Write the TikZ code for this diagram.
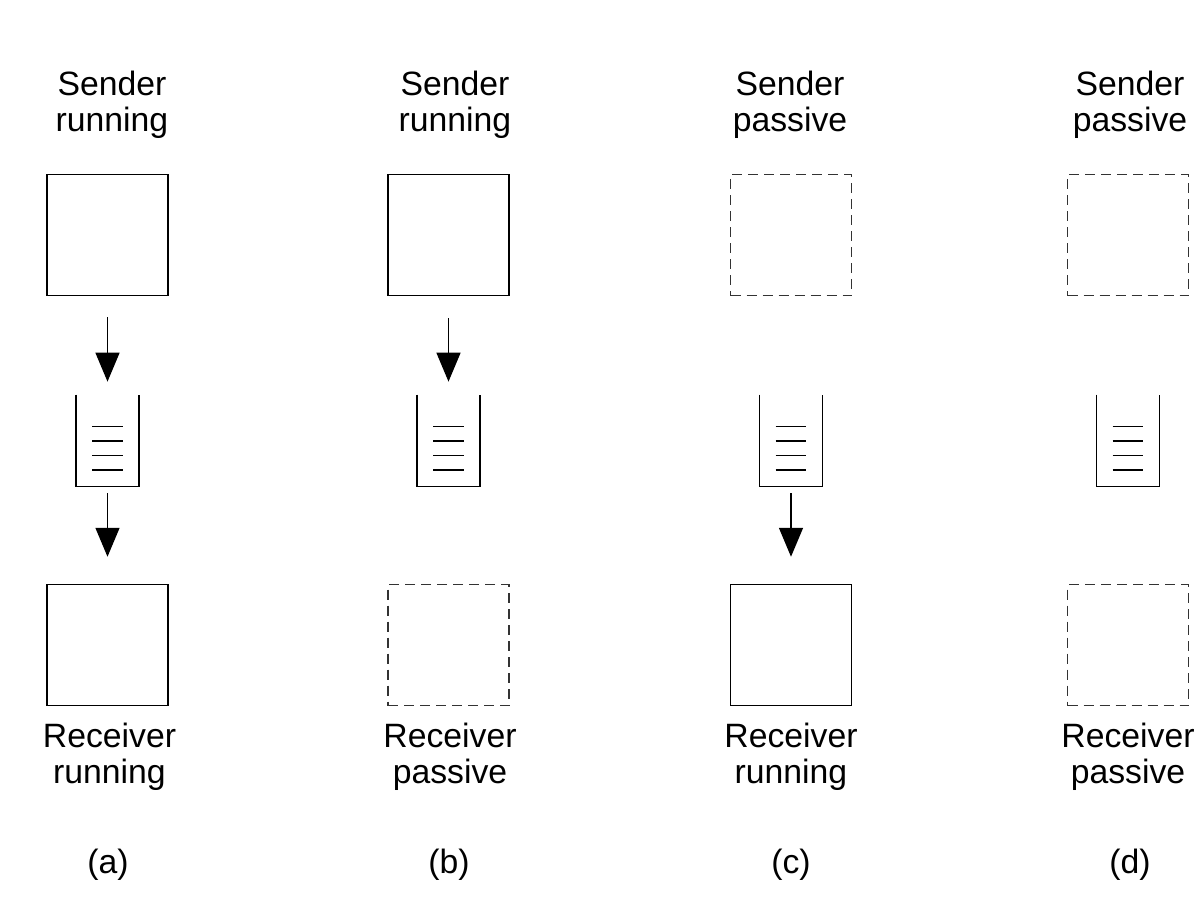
\documentclass[tikz,border=0pt]{standalone}
\usepackage{fontspec}
\setmainfont{Liberation Sans}
\usetikzlibrary{arrows.meta}
\newcommand\buffer[1]{%
\draw[line width=0.8pt] (#1.north west) |- (#1.south east) -- (#1.north east);
\foreach \k in {0.64,0.93,1.22,1.51}
  \draw[line width=0.8pt] ([xshift=0.32cm,yshift=-\k cm]#1.north west) -- ([xshift=-0.32cm,yshift=-\k cm]#1.north east);
}

\begin{document}
\begin{tikzpicture}[
  running/.style={draw,line width=0.85pt,minimum size=2.42cm,inner sep=0},
  passive/.style={running,draw=black!80,dash pattern=on 0.2cm off 0.12cm},
  queue/.style={minimum width=1.24cm,minimum height=1.82cm,inner sep=0},
  state/.style={align=center,anchor=north,inner sep=0,font=\fontsize{19.2}{20.4}\selectfont},
  flow/.style={line width=0.85pt,-{Triangle[length=0.58cm,width=0.48cm]}}]

\useasboundingbox (0,0) rectangle (24.08,-18.24);

% senders
\node[running] (sa) at (2.15,-4.70) {};
\node[running] (sb) at (8.97,-4.70) {};
\node[passive] (sc) at (15.82,-4.70) {};
\node[passive] (sd) at (22.56,-4.70) {};

% buffers
\node[queue] (qa) at (2.15,-8.81) {};
\node[queue] (qb) at (8.97,-8.81) {};
\node[queue] (qc) at (15.82,-8.81) {};
\node[queue] (qd) at (22.56,-8.81) {};
\buffer{qa} \buffer{qb} \buffer{qc} \buffer{qd}

% receivers
\node[running] (ra) at (2.15,-12.90) {};
\node[passive] (rb) at (8.97,-12.90) {};
\node[running] (rc) at (15.82,-12.90) {};
\node[passive] (rd) at (22.56,-12.90) {};

\draw[flow] ([yshift=-0.42cm]sa.south) -- ([yshift=0.26cm]qa.north);
\draw[flow] ([yshift=-0.14cm]qa.south) -- ([yshift=0.54cm]ra.north);
\draw[flow] ([yshift=-0.44cm]sb.south) -- ([yshift=0.26cm]qb.north);
\draw[flow] ([yshift=-0.14cm]qc.south) -- ([yshift=0.54cm]rc.north);

\node[state] (ta) at (2.24,-1.41) {Sender\\running};
\node[state] (tb) at (9.10,-1.41) {Sender\\running};
\node[state] (tc) at (15.80,-1.41) {Sender\\passive};
\node[state] (td) at (22.60,-1.41) {Sender\\passive};

\node[state] (ua) at (2.19,-14.45) {Receiver\\running};
\node[state] (ub) at (9.00,-14.45) {Receiver\\passive};
\node[state] (uc) at (15.82,-14.45) {Receiver\\running};
\node[state] (ud) at (22.56,-14.45) {Receiver\\passive};

\node[state] (la) at (2.16,-16.98) {(a)};
\node[state] (lb) at (8.98,-16.98) {(b)};
\node[state] (lc) at (15.82,-16.98) {(c)};
\node[state] (ld) at (22.60,-16.98) {(d)};

\end{tikzpicture}
\end{document}
